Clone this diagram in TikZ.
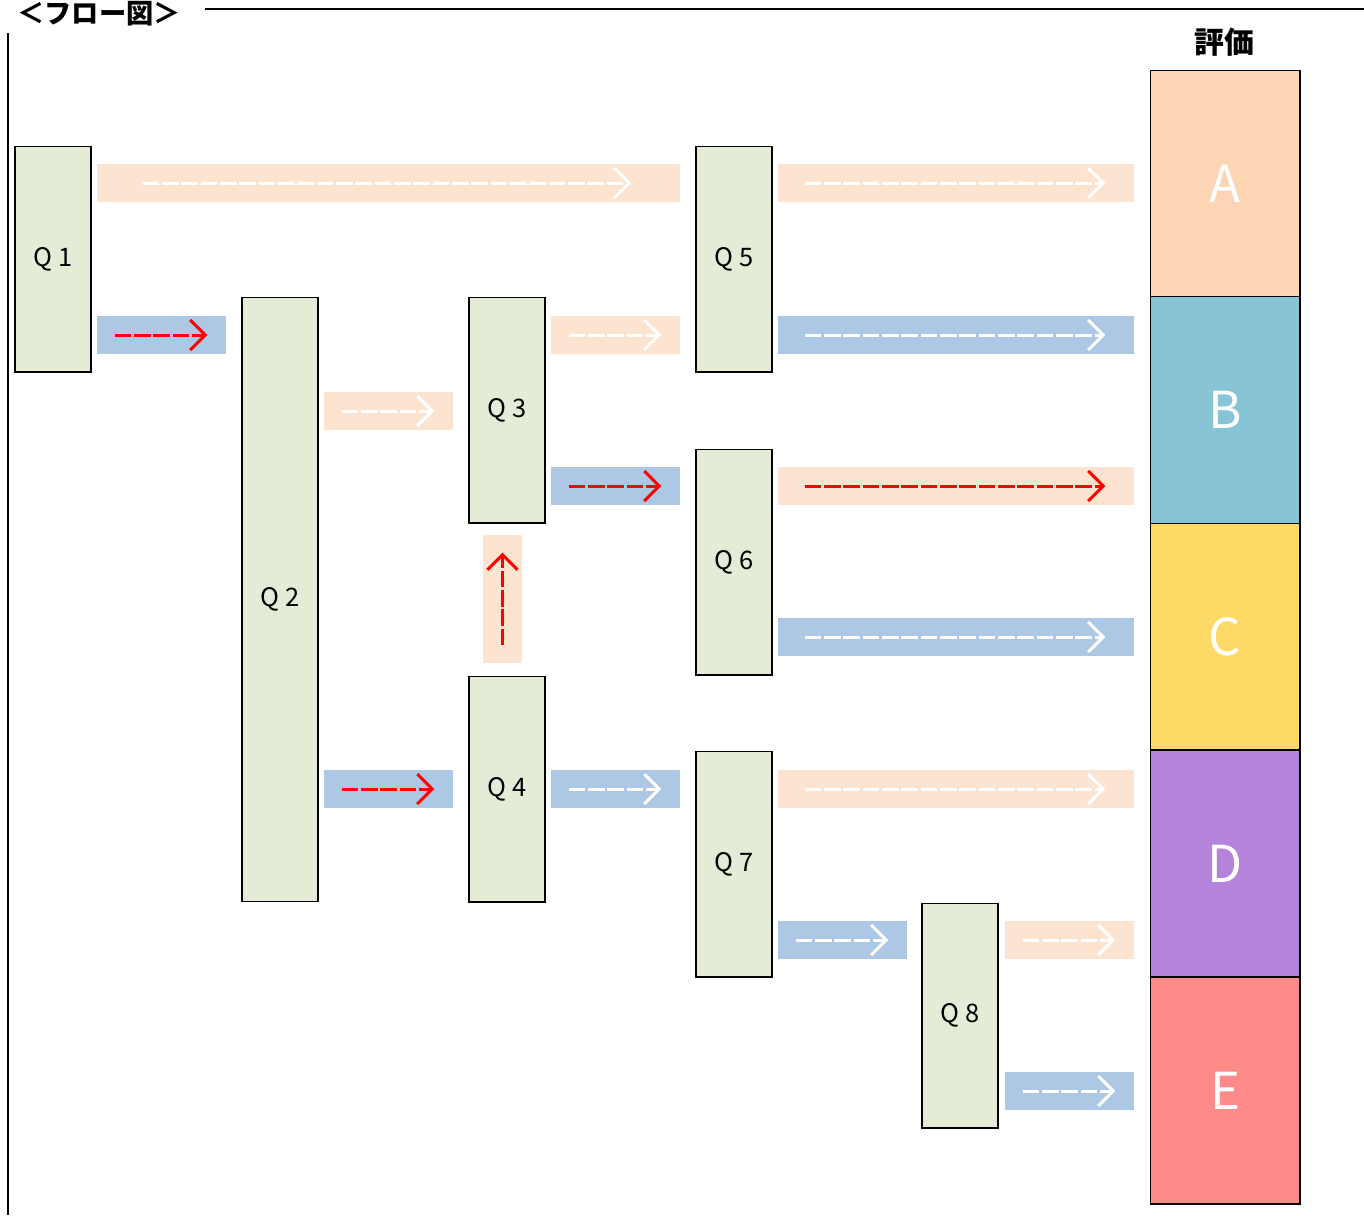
\documentclass[tikz,border=0pt]{standalone}
\usepackage{fontspec}
\setmainfont{Noto Sans CJK JP}
\usepackage{xcolor}
\usetikzlibrary{arrows.meta}
\usetikzlibrary{calc}
\definecolor{qgreen}{HTML}{E4ECD7}
\definecolor{peachband}{HTML}{FCE4D0}
\definecolor{blueband}{HTML}{ACC8E5}
\definecolor{evalA}{HTML}{FCD5B5}
\definecolor{evalB}{HTML}{86C4D6}
\definecolor{evalC}{HTML}{FFD966}
\definecolor{evalD}{HTML}{B483DA}
\definecolor{evalE}{HTML}{FF8A8A}
\begin{document}
\begin{tikzpicture}[x=0.02cm,y=-0.02cm,
    qbox/.style={draw=black,line width=0.6pt,fill=qgreen,minimum width=1.52cm,
        minimum height=4.52cm,inner sep=0pt,font=\fontsize{14.5}{16}\selectfont},
    pband/.style={fill=peachband,inner sep=0pt,minimum height=0.76cm},
    bband/.style={fill=blueband,inner sep=0pt,minimum height=0.76cm},
    wline/.style={white,line width=1.7pt,dash pattern=on 9.5pt off 1.5pt,
        -{Straight Barb[length=0.3cm,width=0.6cm]}},
    rline/.style={wline,red},
    evalbox/.style={draw=black,line width=0.6pt,minimum width=3cm,minimum height=4.54cm,
        inner sep=0pt,text=white,font=\fontsize{29}{30}\selectfont}
]
    \useasboundingbox (0,0) rectangle (1364,1215);

    % frame
    \node[anchor=west,inner sep=0pt,font=\bfseries\fontsize{15.5}{17}\selectfont] (title) at (17,14) {＜フロー図＞};
    \coordinate (lineL) at (205,9);
    \coordinate (lineR) at (1364,9);
    \coordinate (frameT) at (8,33);
    \coordinate (frameB) at (8,1215);
    \draw[line width=0.6pt] (lineL) -- (lineR);
    \draw[line width=0.6pt] (frameT) -- (frameB);

    % questions
    \node[qbox] (q1) at (53,259) {Q 1};
    \node[qbox,minimum height=12.1cm] (q2) at (280,599.5) {Q 2};
    \node[qbox] (q3) at (507,410) {Q 3};
    \node[qbox] (q4) at (507,789) {Q 4};
    \node[qbox] (q5) at (734,259) {Q 5};
    \node[qbox] (q6) at (734,562) {Q 6};
    \node[qbox] (q7) at (734,864) {Q 7};
    \node[qbox,minimum height=4.5cm] (q8) at (960,1015.5) {Q 8};

    % bands
    \node[pband,minimum width=11.66cm] (a1) at (388.5,183) {};
    \node[bband,minimum width=2.58cm] (a2) at (161.5,335) {};
    \node[pband,minimum width=2.58cm] (a3) at (388.5,411) {};
    \node[bband,minimum width=2.58cm] (a4) at (388.5,789) {};
    \node[pband,minimum width=2.58cm] (a5) at (615.5,335) {};
    \node[bband,minimum width=2.58cm] (a6) at (615.5,486) {};
    \node[bband,minimum width=2.58cm] (a7) at (615.5,789) {};
    \node[pband,minimum width=0.78cm,minimum height=2.56cm] (a8) at (502.5,599) {};
    \node[pband,minimum width=7.12cm] (a9) at (956,183) {};
    \node[bband,minimum width=7.12cm] (a10) at (956,335) {};
    \node[pband,minimum width=7.12cm] (a11) at (956,486) {};
    \node[bband,minimum width=7.12cm] (a12) at (956,637) {};
    \node[pband,minimum width=7.12cm] (a13) at (956,789) {};
    \node[bband,minimum width=2.58cm] (a14) at (842.5,940) {};
    \node[pband,minimum width=2.58cm] (a15) at (1069.5,940) {};
    \node[bband,minimum width=2.58cm] (a16) at (1069.5,1091) {};

    % arrows
    \draw[wline] ($(a1.west)+(46,0)$) -- ($(a1.east)+(-49,0)$);
    \draw[rline] ($(a2.west)+(18,0)$) -- ($(a2.east)+(-19,0)$);
    \draw[wline] ($(a3.west)+(18,0)$) -- ($(a3.east)+(-19,0)$);
    \draw[rline] ($(a4.west)+(18,0)$) -- ($(a4.east)+(-19,0)$);
    \draw[wline] ($(a5.west)+(18,0)$) -- ($(a5.east)+(-19,0)$);
    \draw[rline] ($(a6.west)+(18,0)$) -- ($(a6.east)+(-19,0)$);
    \draw[wline] ($(a7.west)+(18,0)$) -- ($(a7.east)+(-19,0)$);
    \draw[rline] ($(a8.south)+(0,-18)$) -- ($(a8.north)+(0,18)$);
    \draw[wline] ($(a9.west)+(27,0)$) -- ($(a9.east)+(-29,0)$);
    \draw[wline] ($(a10.west)+(27,0)$) -- ($(a10.east)+(-29,0)$);
    \draw[rline] ($(a11.west)+(27,0)$) -- ($(a11.east)+(-29,0)$);
    \draw[wline] ($(a12.west)+(27,0)$) -- ($(a12.east)+(-29,0)$);
    \draw[wline] ($(a13.west)+(27,0)$) -- ($(a13.east)+(-29,0)$);
    \draw[wline] ($(a14.west)+(18,0)$) -- ($(a14.east)+(-19,0)$);
    \draw[wline] ($(a15.west)+(18,0)$) -- ($(a15.east)+(-19,0)$);
    \draw[wline] ($(a16.west)+(18,0)$) -- ($(a16.east)+(-19,0)$);

    % evaluation
    \node[font=\bfseries\fontsize{17}{19}\selectfont] (eval) at (1224,42) {評価};
    \foreach \name/\col/\y in {A/evalA/183.5,B/evalB/410,C/evalC/636.5,D/evalD/863.5,E/evalE/1090.5}
        \node[evalbox,fill=\col] (\name) at (1225,\y) {\name};
\end{tikzpicture}
\end{document}
